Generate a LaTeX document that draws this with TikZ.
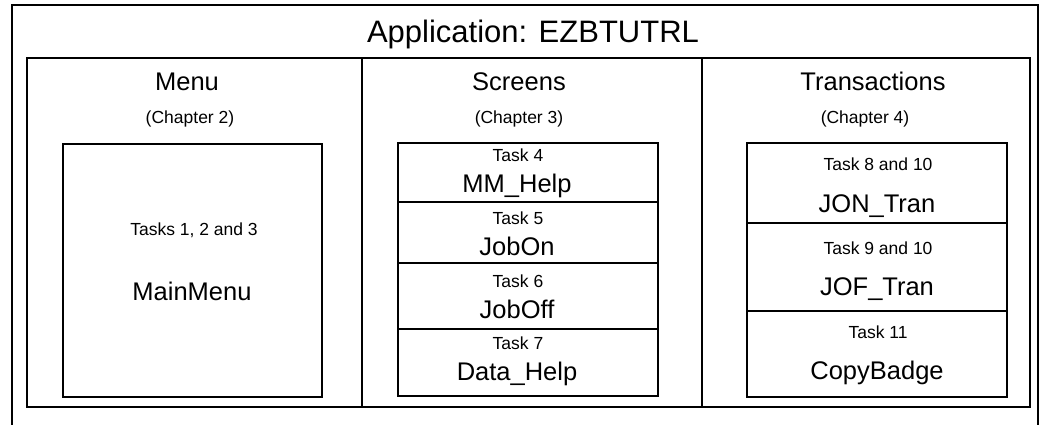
\documentclass[tikz,border=0pt]{standalone}
\usepackage{fontspec}
\setmainfont{Liberation Sans}
\usetikzlibrary{positioning}
\tikzset{
  frame/.style={draw, line width=2.8pt},
  box/.style={draw, line width=2.6pt, inner sep=0pt, outer sep=0pt, anchor=north west, minimum width=260pt},
  titletxt/.style={anchor=base, font=\fontsize{31}{34}\selectfont},
  bigtxt/.style={anchor=base, font=\fontsize{25.5}{30}\selectfont},
  smalltxt/.style={anchor=base, font=\fontsize{17.5}{20}\selectfont},
}

\begin{document}
\begin{tikzpicture}[x=1pt, y=-1pt]
\useasboundingbox (0,0) rectangle (1050,425);

% application frame (open at the bottom)
\draw[frame] (12,425) -- (12,5) -- (1038,5) -- (1038,425);
\node[titletxt] (app) at (533,43) {Application: EZBTUTRL};

% the three columns
\draw[frame] (27,58) rectangle (1030,407);
\draw[frame] (362,58) -- (362,407);
\draw[frame] (702,58) -- (702,407);

\node[bigtxt] (menu) at (187,91) {Menu};
\node[smalltxt] (menuch) at (190,124) {(Chapter 2)};
\node[bigtxt] (screens) at (519,91) {Screens};
\node[smalltxt] (screensch) at (519,124) {(Chapter 3)};
\node[bigtxt] (trans) at (873,91) {Transactions};
\node[smalltxt] (transch) at (865,124) {(Chapter 4)};

% menu
\node[box, minimum width=259pt, minimum height=253pt] (mainmenu) at (63,144) {};
\node[smalltxt] (mainmenut) at (194,235) {Tasks 1, 2 and 3};
\node[bigtxt] (mainmenun) at (192,300) {MainMenu};

% screens
\node[box, minimum height=59pt] (mmhelp) at (398,143) {};
\node[box, minimum height=61pt] (jobon) at (398,202) {};
\node[box, minimum height=66pt] (joboff) at (398,263) {};
\node[box, minimum height=67pt] (datahelp) at (398,329) {};
\node[smalltxt] (mmhelpt) at (518,162) {Task 4};
\node[bigtxt] (mmhelpn) at (517,193) {MM\_Help};
\node[smalltxt] (jobont) at (518,224) {Task 5};
\node[bigtxt] (jobonn) at (517,255) {JobOn};
\node[smalltxt] (jobofft) at (518,287) {Task 6};
\node[bigtxt] (joboffn) at (517,318) {JobOff};
\node[smalltxt] (datahelpt) at (518,349) {Task 7};
\node[bigtxt] (datahelpn) at (517,380) {Data\_Help};

% transactions
\node[box, minimum height=80pt] (jontran) at (747,143) {};
\node[box, minimum height=88pt] (joftran) at (747,223) {};
\node[box, minimum height=86pt] (copybadge) at (747,311) {};
\node[smalltxt] (jontrant) at (878,171) {Task 8 and 10};
\node[bigtxt] (jontrann) at (877,212) {JON\_Tran};
\node[smalltxt] (joftrant) at (878,254) {Task 9 and 10};
\node[bigtxt] (joftrann) at (877,295) {JOF\_Tran};
\node[smalltxt] (copybadget) at (878,338) {Task 11};
\node[bigtxt] (copybadgen) at (877,379) {CopyBadge};
\end{tikzpicture}
\end{document}
